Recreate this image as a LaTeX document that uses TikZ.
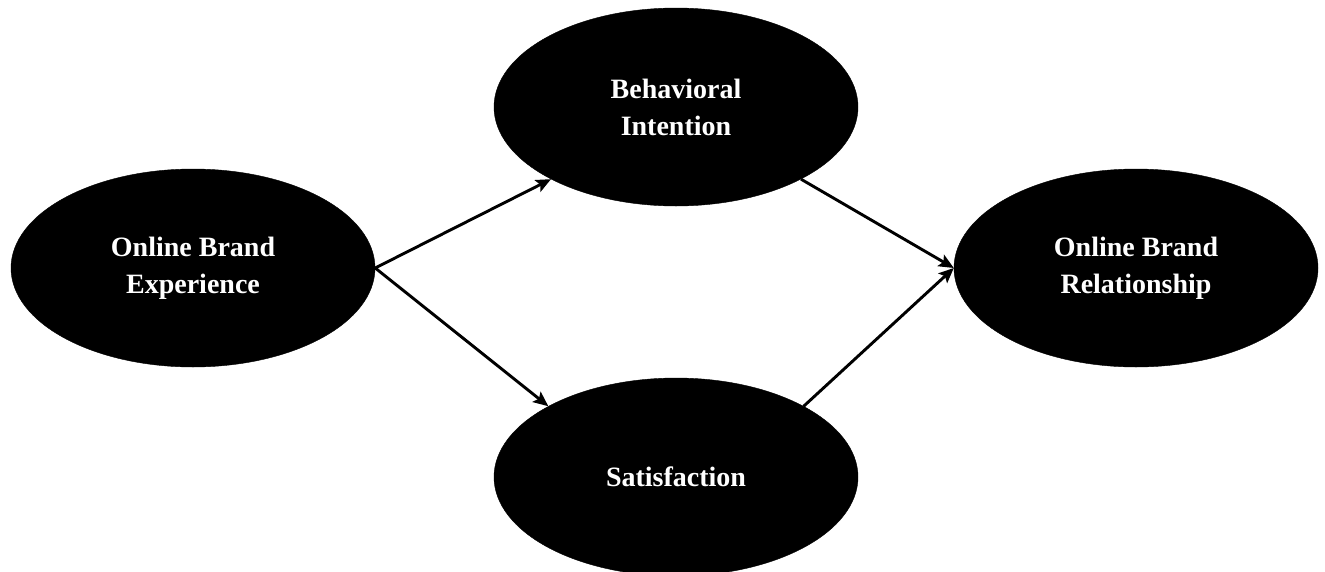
\documentclass[tikz,border=0pt]{standalone}
\usepackage{fontspec}
\setmainfont{Liberation Serif}
\usetikzlibrary{shapes.geometric,arrows.meta}
\begin{document}
\begin{tikzpicture}[x=1pt,y=-1pt,
  construct/.style={ellipse, fill=black, draw=black, inner sep=0pt,
    minimum width=364pt, minimum height=198pt,
    text=white, font=\fontsize{28}{37}\selectfont\bfseries, align=center},
  path/.style={line width=2.9pt, -{Stealth[length=15pt,width=13pt,inset=3pt]}}]
  \useasboundingbox (0,0) rectangle (1325,571);
  \clip (0,0) rectangle (1325,571);
  \node[construct] (obe) at (193,268) {Online Brand\\Experience};
  \node[construct] (bi)  at (676,107) {Behavioral\\Intention};
  \node[construct] (sat) at (676,477) {Satisfaction};
  \node[construct] (obr) at (1136,268) {Online Brand\\Relationship};
  \draw[path] (obe.east) -- (bi.210);
  \draw[path] (obe.east) -- (sat.151);
  \draw[path] (bi.330) -- (obr.west);
  \draw[path] (sat.29) -- (obr.west);
\end{tikzpicture}
\end{document}
